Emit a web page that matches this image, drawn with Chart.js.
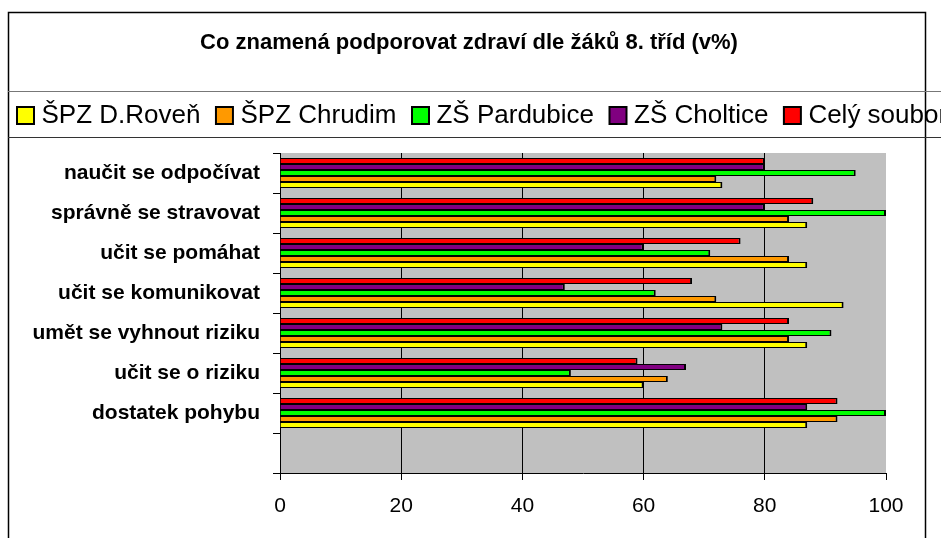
<!DOCTYPE html>
<html><head><meta charset="utf-8">
<script src="https://cdn.jsdelivr.net/npm/chart.js@4.4.1/dist/chart.umd.min.js"></script>
<style>
html,body{margin:0;padding:0;background:#fff;overflow:hidden;width:941px;height:538px}
canvas{display:block;position:absolute;left:0;top:0}
</style></head>
<body><canvas id="c" width="1100" height="538"></canvas>
<script>
const chartTitle = 'Co znamená podporovat zdraví dle žáků 8. tříd (v%)';
// categories listed top to bottom (the last slot is empty in the original)
const categories = ['naučit se odpočívat','správně se stravovat','učit se pomáhat','učit se komunikovat','umět se vyhnout riziku','učit se o riziku','dostatek pohybu',''];
const seriesNames = ['ŠPZ D.Roveň','ŠPZ Chrudim','ZŠ Pardubice','ZŠ Choltice','Celý soubor'];
const spzDRoven   = [73, 87, 87, 93, 87, 60, 87, null];
const spzChrudim  = [72, 84, 84, 72, 84, 64, 92, null];
const zsPardubice = [95,100, 71, 62, 91, 48,100, null];
const zsCholtice  = [80, 80, 60, 47, 73, 67, 87, null];
const celySoubor  = [80, 88, 76, 68, 84, 59, 92, null];
const xTickValues = [0, 20, 40, 60, 80, 100];
const seriesColors = ['#ffff00','#ff9900','#00ff00','#800080','#ff0000'];

const FONT = '"Liberation Sans", Arial, sans-serif';
const seriesValues = [spzDRoven, spzChrudim, zsPardubice, zsCholtice, celySoubor];

// datasets in reverse so the first series sits at the bottom of each group (as in the original)
const datasets = seriesNames.map((name, i) => ({
  label: name,
  data: seriesValues[i],
  backgroundColor: seriesColors[i],
  borderColor: '#000',
  borderWidth: {top: 1, bottom: 1, right: 2, left: 0},
  inflateAmount: 0,
  categoryPercentage: 0.75,
  barPercentage: 1.0
})).reverse();

const frame = {
  id: 'frame',
  beforeUpdate(chart) {
    if (chart.legend && !chart.legend._patched) {
      const fit = chart.legend.fit;
      chart.legend.fit = function () { fit.call(this); this.height += 14.5; };
      chart.legend._patched = true;
    }
  },
  beforeDraw(chart) {
    const {ctx, chartArea: a} = chart;
    ctx.save();
    ctx.fillStyle = '#fff';
    ctx.fillRect(0, 0, chart.width, chart.height);
    ctx.fillStyle = '#c0c0c0';
    ctx.fillRect(a.left, a.top, a.right - a.left, a.bottom - a.top);
    ctx.restore();
  },
  afterDraw(chart) {
    const ctx = chart.ctx;
    ctx.save();
    ctx.strokeStyle = '#000';
    ctx.lineWidth = 1.5;
    ctx.strokeRect(8.5, 12.5, 917, 600);
    ctx.lineWidth = 1;
    ctx.strokeStyle = '#777';
    ctx.beginPath(); ctx.moveTo(8, 91.5); ctx.lineTo(chart.width, 91.5); ctx.stroke();
    ctx.strokeStyle = '#333';
    ctx.beginPath(); ctx.moveTo(8, 137.5); ctx.lineTo(chart.width, 137.5); ctx.stroke();
    ctx.fillStyle = '#000';
    ctx.font = 'bold 22px ' + FONT;
    ctx.textAlign = 'center';
    ctx.textBaseline = 'middle';
    ctx.fillText(chartTitle, 469, 43);
    ctx.restore();
  }
};

Chart.defaults.color = '#000';
Chart.defaults.font.family = FONT;

new Chart(document.getElementById('c'), {
  type: 'bar',
  data: { labels: categories, datasets },
  options: {
    indexAxis: 'y',
    responsive: false,
    animation: false,
    devicePixelRatio: 1,
    layout: { padding: { top: 81.5, left: 1.5, right: 0, bottom: 0 } },
    plugins: {
      title: { display: false },
      tooltip: { enabled: false },
      legend: {
        position: 'top',
        align: 'start',
        reverse: true,
        labels: {
          font: { size: 26, family: FONT },
          color: '#000',
          usePointStyle: true,
          pointStyle: 'rect',
          boxWidth: 6,
          boxHeight: 17,
          padding: 21,
          generateLabels(chart) {
            const items = Chart.defaults.plugins.legend.labels.generateLabels(chart);
            items.forEach(it => { it.lineWidth = 2; it.strokeStyle = '#000'; it.pointStyle = 'rect'; });
            return items;
          }
        }
      }
    },
    scales: {
      x: {
        type: 'linear',
        min: 0, max: 100,
        afterBuildTicks(s) { s.ticks = xTickValues.map(v => ({value: v})); },
        afterFit(s) { s.height = 65; },
        ticks: { font: { size: 21, family: FONT }, color: '#000', padding: 14 },
        grid: {
          color: c => (c.tick && c.tick.value === 100) ? 'rgba(0,0,0,0)' : '#000',
          tickColor: '#000',
          lineWidth: 1,
          tickLength: 7
        },
        border: { color: '#000', width: 1 }
      },
      y: {
        type: 'category',
        afterFit(s) { s.width = 278.5; },
        ticks: { font: { size: 21, weight: 'bold', family: FONT }, color: '#000', padding: 13, autoSkip: false },
        grid: { drawOnChartArea: false, offset: true, tickColor: '#000', color: '#000', tickLength: 7 },
        border: { color: '#000', width: 1 }
      },
      yR: {
        type: 'linear',
        axis: 'y',
        position: 'right',
        display: true,
        afterFit(s) { s.width = 1100 - 886; },
        ticks: { display: false },
        grid: { display: false },
        border: { display: false }
      }
    }
  },
  plugins: [frame]
});
</script>
</body></html>
